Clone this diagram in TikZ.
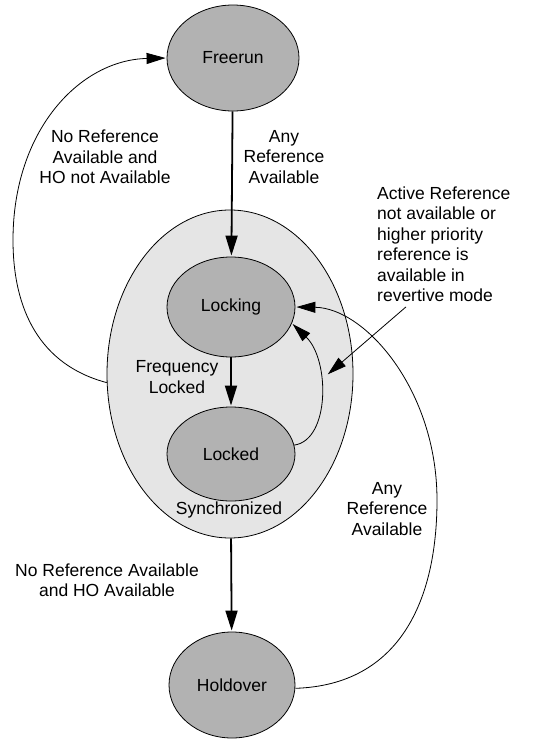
\documentclass[tikz,border=0pt]{standalone}
\usepackage{fontspec}
\setmainfont{Liberation Sans}
\usetikzlibrary{shapes.geometric,arrows.meta}

\tikzset{
  state/.style={ellipse, draw, line width=0.8pt, fill=gray!60, inner sep=0pt,
    minimum width=128pt, minimum height=100pt},
  lbl/.style={align=center, inner sep=1pt},
  bigarrow/.style={-{Triangle[length=20pt,width=12pt]}, line width=1.8pt, shorten >=1pt},
  thinarrow/.style={-{Triangle[length=19pt,width=11pt]}, line width=0.8pt, shorten >=1pt},
}

\begin{document}
\begin{tikzpicture}[x=1pt,y=-1pt,font=\fontsize{17.5}{20.5}\selectfont]
    \useasboundingbox (0,0) rectangle (540,739);
    % states
    \node[ellipse, draw, line width=0.8pt, fill=black!10, minimum width=246pt, minimum height=328pt] (sync) at (230,374) {};
    \node[state, minimum width=132pt, minimum height=106pt] (freerun) at (233,58) {Freerun};
    \node[state] (locking) at (231,307) {Locking};
    \node[state, minimum height=94pt] (locked) at (231,454) {Locked};
    \node[state, minimum width=126pt, minimum height=106pt] (holdover) at (232,685) {Holdover};
    \node (synclbl) at (229,510) {Synchronized};
    % labels
    \node[lbl] (norefho) at (105,157) {No Reference\\Available and\\HO not Available};
    \node[lbl] (anyref) at (284,157) {Any\\Reference\\Available};
    \node[lbl, align=left, anchor=west] (note) at (376,244) {Active Reference\\not available or\\higher priority\\reference is\\available in\\revertive mode};
    \node[lbl] (freqlock) at (177,377) {Frequency\\Locked};
    \node[lbl] (anyrefho) at (387,509) {Any\\Reference\\Available};
    \node[lbl] (norefhold) at (107,580) {No Reference Available\\and HO Available};
    \coordinate (notetip) at (327,375);
    % transitions
    \draw[bigarrow] (freerun) -- (locking);
    \draw[bigarrow] (locking) -- (locked);
    \draw[bigarrow] (sync) -- (holdover);
    \draw[thinarrow] (sync.184) .. controls (40,365) and (13,310) .. (13,240)
        .. controls (13,130) and (80,60) .. (freerun.west);
    \draw[thinarrow] (locked.8) .. controls (330,440) and (330,360) .. (locking.-15);
    \draw[thinarrow] (holdover.-3) .. controls (400,685) and (437,600) .. (437,500)
        .. controls (437,390) and (365,308) .. (locking.east);
    \draw[thinarrow] ([shift={(30,4)}]note.south west) -- (notetip);
\end{tikzpicture}
\end{document}
